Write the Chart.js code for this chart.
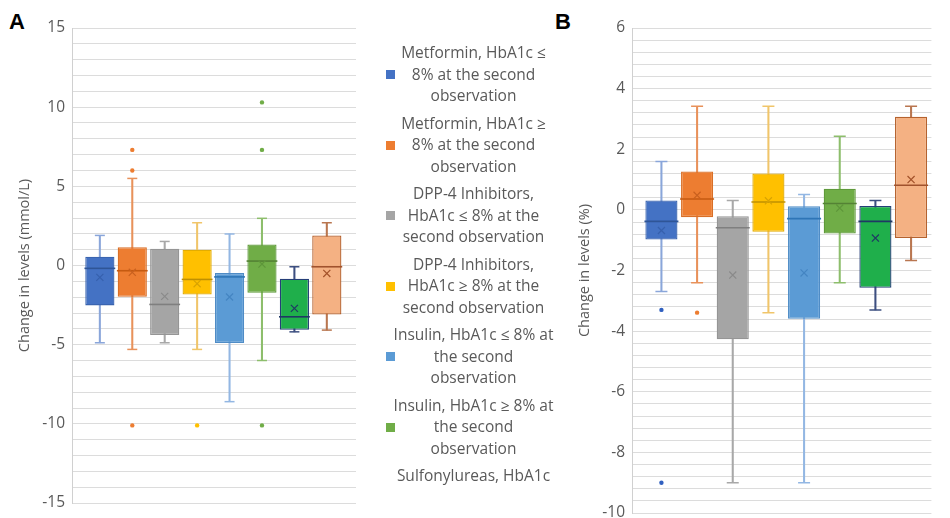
<!DOCTYPE html>
<html>
<head>
<meta charset="utf-8">
<script src="https://cdn.jsdelivr.net/npm/chart.js@4.4.1/dist/chart.umd.min.js"></script>
<style>
html,body{margin:0;padding:0;width:950px;height:518px;overflow:hidden;background:#fff;}
#wa{position:absolute;left:0;top:0;width:373px;height:540px;}
#wb{position:absolute;left:560px;top:0;width:390px;height:540px;}
.panel{position:absolute;font:bold 22px 'Liberation Sans',Arial,sans-serif;color:#000;line-height:22px;}
#legend{position:absolute;left:380px;top:40px;width:190px;height:447px;overflow:hidden;font-family:'Open Sans',sans-serif;color:#595959;}
.entry{position:absolute;left:0;width:190px;}
.sw{position:absolute;left:6px;width:9px;height:9px;}
.txt{position:absolute;left:11px;width:165px;text-align:center;font-size:15.5px;line-height:21.5px;white-space:nowrap;}
</style>
</head>
<body>
<div class="panel" style="left:9px;top:11px;">A</div>
<div class="panel" style="left:555px;top:11px;">B</div>
<div id="wa"><canvas id="ca"></canvas></div>
<div id="wb"><canvas id="cb"></canvas></div>
<div id="legend"></div>
<script>
// ---- categories ----
const seriesNames = [
  'Metformin, HbA1c ≤ 8% at the second observation',
  'Metformin, HbA1c ≥ 8% at the second observation',
  'DPP-4 Inhibitors, HbA1c ≤ 8% at the second observation',
  'DPP-4 Inhibitors, HbA1c ≥ 8% at the second observation',
  'Insulin, HbA1c ≤ 8% at the second observation',
  'Insulin, HbA1c ≥ 8% at the second observation',
  'Sulfonylureas, HbA1c ≤ 8% at the second observation',
  'Sulfonylureas, HbA1c ≥ 8% at the second observation'
];
const legendLines = [
  ['Metformin, HbA1c ≤', '8% at the second', 'observation'],
  ['Metformin, HbA1c ≥', '8% at the second', 'observation'],
  ['DPP-4 Inhibitors,', 'HbA1c ≤ 8% at the', 'second observation'],
  ['DPP-4 Inhibitors,', 'HbA1c ≥ 8% at the', 'second observation'],
  ['Insulin, HbA1c ≤ 8% at', 'the second', 'observation'],
  ['Insulin, HbA1c ≥ 8% at', 'the second', 'observation'],
  ['Sulfonylureas, HbA1c', '≤ 8% at the second', 'observation'],
  ['Sulfonylureas, HbA1c', '≥ 8% at the second', 'observation']
];

// ---- Panel A: glucose change (mmol/L) ----
const glucoseMin    = [-4.88, -5.3, -4.88, -5.3, -8.6, -6.0, -4.19, -4.08];
const glucoseQ1     = [-2.52, -1.97, -4.39, -1.83, -4.9, -1.72, -4.06, -3.09];
const glucoseMedian = [-0.18, -0.33, -2.46, -0.88, -0.72, 0.28, -3.24, -0.08];
const glucoseQ3     = [0.55, 1.15, 1.06, 1.0, -0.47, 1.33, -0.84, 1.9];
const glucoseMax    = [1.9, 5.5, 1.52, 2.7, 1.99, 2.98, -0.08, 2.7];
const glucoseMean   = [-0.75, -0.43, -1.95, -1.15, -1.99, 0.09, -2.71, -0.5];
const glucoseOutliers = [[], [7.3, 6.0, -10.1], [], [-10.1], [], [10.3, 7.3, -10.1], [], []];
const yTicksA = [-15, -10, -5, 0, 5, 10, 15];

// ---- Panel B: HbA1c change (%) ----
const hba1cMin    = [-2.69, -2.4, -9.0, -3.39, -9.0, -2.4, -3.3, -1.67];
const hba1cQ1     = [-0.975, -0.24, -4.27, -0.72, -3.59, -0.78, -2.57, -0.93];
const hba1cMedian = [-0.38, 0.36, -0.59, 0.26, -0.29, 0.21, -0.38, 0.81];
const hba1cQ3     = [0.31, 1.27, -0.21, 1.2, 0.12, 0.7, 0.13, 3.07];
const hba1cMax    = [1.6, 3.42, 0.31, 3.42, 0.51, 2.43, 0.31, 3.42];
const hba1cMean   = [-0.68, 0.48, -2.15, 0.3, -2.08, 0.06, -0.93, 1.0];
const hba1cOutliers = [[-3.3, -9.0], [-3.39], [], [], [], [], [], []];
const yTicksB = [-10, -8, -6, -4, -2, 0, 2, 4, 6];

// ---- styles ----
const fillColors    = ['#4472C4','#ED7D31','#A5A5A5','#FFC000','#5B9BD5','#70AD47','#1FAF4B','#F4B183'];
const borderColors  = ['#3A64B0','#D96F27','#959595','#E3AC00','#4F8CC6','#5F9A3B','#253E78','#B5622E'];
const whiskerColors = ['#8AA6DA','#E8915A','#A8A8A8','#F0C56A','#93B7E3','#8DBE6C','#3D4F80','#B97650'];
const medianColors  = ['#2F5597','#C55A11','#7F7F7F','#BF9000','#2E75B6','#548235','#1F3864','#A0522D'];
const meanColors    = ['#3660AD','#C9601E','#8A8A8A','#D9A300','#4485C2','#5E963A','#1F3864','#A3522A'];
const outlierColors = ['#3060C0','#ED7D31','#A5A5A5','#FFC000','#5B9BD5','#70AD47','#1F3864','#F4B183'];
const legendColors  = ['#4472C4','#ED7D31','#A5A5A5','#FFC000','#5B9BD5','#70AD47','#1FAF4B','#F4B183'];

// ---- legend (HTML text) ----
const legendEl = document.getElementById('legend');
legendLines.forEach((lines, i) => {
  const e = document.createElement('div');
  e.className = 'entry';
  e.style.top = (2.25 + 70.5 * i) + 'px';
  const t = document.createElement('div');
  t.className = 'txt';
  t.innerHTML = lines.join('<br>');
  e.appendChild(t);
  const s = document.createElement('div');
  s.className = 'sw';
  s.style.top = (21.5 + 10.75 - 4.5) + 'px';
  s.style.background = legendColors[i];
  e.appendChild(s);
  legendEl.appendChild(e);
});

function buildDatasets(mins, q1s, meds, q3s, maxs, means, outs, capR, halfBox) {
  const idx = mins.map((_, i) => i);
  const outPts = [];
  outs.forEach((arr, i) => arr.forEach(v => outPts.push({x: i, y: v})));
  return [
    {type:'bar', label:'whiskers', data: idx.map(i => ({x:i, y:[mins[i], maxs[i]]})),
     backgroundColor: whiskerColors, borderWidth:0, barThickness:1.4, grouped:false, order:5},
    {type:'bar', label:'boxes', data: idx.map(i => ({x:i, y:[q1s[i], q3s[i]]})),
     backgroundColor: fillColors, borderColor: borderColors, borderWidth:1.3, borderSkipped:false,
     grouped:false, barPercentage:0.9, categoryPercentage:1, order:4},
    {type:'scatter', label:'medians', data: idx.map(i => ({x:i, y:meds[i]})),
     pointStyle:'line', pointRadius:halfBox, pointHoverRadius:halfBox, pointBorderWidth:1.6, pointBorderColor: medianColors, order:3},
    {type:'scatter', label:'means', data: idx.map(i => ({x:i, y:means[i]})),
     pointStyle:'crossRot', pointRadius:5, pointBorderWidth:1.2, pointBorderColor: meanColors, order:2},
    {type:'scatter', label:'capsLow', data: idx.map(i => ({x:i, y:mins[i]})),
     pointStyle:'line', pointRadius:capR, pointBorderWidth:1.5, pointBorderColor: whiskerColors, order:1},
    {type:'scatter', label:'capsHigh', data: idx.map(i => ({x:i, y:maxs[i]})),
     pointStyle:'line', pointRadius:capR, pointBorderWidth:1.5, pointBorderColor: whiskerColors, order:1},
    {type:'scatter', label:'outliers', data: outPts,
     pointStyle:'circle', pointRadius:2.2, pointBorderWidth:0,
     pointBackgroundColor: ctx => (ctx.raw ? outlierColors[ctx.raw.x] : '#000'),
     pointBorderColor: ctx => (ctx.raw ? outlierColors[ctx.raw.x] : '#000'), order:0}
  ];
}

function makeChart(id, datasets, xMin, xMax, yMin, yMax, step, tickVals, title, pad) {
  return new Chart(document.getElementById(id), {
    type: 'bar',
    data: { datasets },
    options: {
      responsive: true, maintainAspectRatio: false, animation: false,
      layout: { padding: pad },
      plugins: { legend: {display:false}, tooltip: {enabled:false} },
      scales: {
        x: { type:'linear', min:xMin, max:xMax, display:false, offset:false },
        y: {
          type:'linear', min:yMin, max:yMax,
          ticks: {
            stepSize: step, autoSkip:false, maxTicksLimit:200, padding:7,
            color:'#595959', font:{family:'Open Sans', size:15.5},
            callback: v => (tickVals.some(t => Math.abs(t - v) < 1e-6) ? String(Math.round(v)) : '')
          },
          grid: { color:'#dcdcdc', drawTicks:false, lineWidth:1 },
          border: { display:true, color:'#d0d0d0' },
          title: { display:true, text:title, color:'#595959', font:{family:'Open Sans', size:14.5}, padding:{top:16.3, bottom:0} },
          afterFit: s => { s.width = 72; }
        }
      }
    }
  });
}

makeChart('ca',
  buildDatasets(glucoseMin, glucoseQ1, glucoseMedian, glucoseQ3, glucoseMax, glucoseMean, glucoseOutliers, 5, 15.4),
  -0.859, 7.90, -15, 15, 1, yTicksA, 'Change in levels (mmol/L)', {top:28, bottom:37, left:0, right:0});

makeChart('cb',
  buildDatasets(hba1cMin, hba1cQ1, hba1cMedian, hba1cQ3, hba1cMax, hba1cMean, hba1cOutliers, 6, 17),
  -0.825, 7.57, -10, 6, 0.4, yTicksB, 'Change in levels (%)', {top:28, bottom:27, left:0, right:0});
</script>
</body>
</html>
